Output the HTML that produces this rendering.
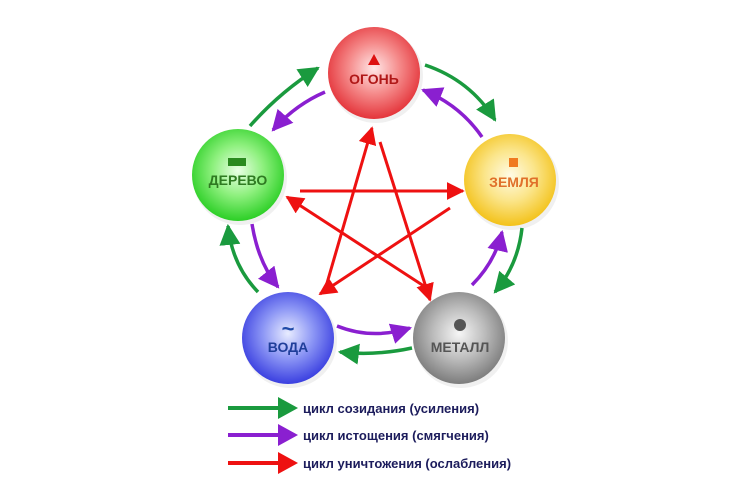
<!DOCTYPE html>
<html><head><meta charset="utf-8"><style>
html,body{margin:0;padding:0;background:#fff;}
svg{display:block;}
text{font-family:"Liberation Sans","DejaVu Sans",sans-serif;font-weight:bold;}
</style></head><body>
<svg width="750" height="500" viewBox="0 0 750 500" xmlns="http://www.w3.org/2000/svg">
<defs>
<radialGradient id="gr" cx="50%" cy="45%" r="55%"><stop offset="0" stop-color="#ffe8e8"/><stop offset="0.5" stop-color="#f58b8b"/><stop offset="1" stop-color="#e4343a"/></radialGradient>
<radialGradient id="gg" cx="50%" cy="45%" r="55%"><stop offset="0" stop-color="#eaffe6"/><stop offset="0.5" stop-color="#8ef07e"/><stop offset="1" stop-color="#2ccf26"/></radialGradient>
<radialGradient id="gy" cx="50%" cy="45%" r="55%"><stop offset="0" stop-color="#fffbe6"/><stop offset="0.5" stop-color="#fbe58a"/><stop offset="1" stop-color="#f3c21a"/></radialGradient>
<radialGradient id="gb" cx="50%" cy="45%" r="55%"><stop offset="0" stop-color="#e8ecff"/><stop offset="0.5" stop-color="#8c96f5"/><stop offset="1" stop-color="#3a3fe0"/></radialGradient>
<radialGradient id="gm" cx="50%" cy="45%" r="55%"><stop offset="0" stop-color="#f6f6f6"/><stop offset="0.5" stop-color="#bdbdbd"/><stop offset="1" stop-color="#7c7c7c"/></radialGradient>
<marker id="ar" viewBox="0 0 10 10" refX="9" refY="5" markerWidth="6" markerHeight="6" orient="auto"><path d="M0,0L10,5L0,10z" fill="#ee1111"/></marker>
<marker id="ag" viewBox="0 0 10 10" refX="9" refY="5" markerWidth="6" markerHeight="6" orient="auto"><path d="M0,0L10,5L0,10z" fill="#1a9a3e"/></marker>
<marker id="ap" viewBox="0 0 10 10" refX="9" refY="5" markerWidth="6" markerHeight="6" orient="auto"><path d="M0,0L10,5L0,10z" fill="#8a1fd0"/></marker>
</defs>
<g fill="#000" opacity="0.06">
<circle cx="376" cy="76" r="47"/><circle cx="240" cy="178" r="47"/><circle cx="512" cy="183" r="47"/><circle cx="290" cy="341" r="47"/><circle cx="461" cy="341" r="47"/>
</g>
<circle cx="374" cy="73" r="46" fill="url(#gr)"/>
<circle cx="238" cy="175" r="46" fill="url(#gg)"/>
<circle cx="510" cy="180" r="46" fill="url(#gy)"/>
<circle cx="288" cy="338" r="46" fill="url(#gb)"/>
<circle cx="459" cy="338" r="46" fill="url(#gm)"/>
<path d="M374,54 L380,65 L368,65z" fill="#dd1111"/>
<text x="374" y="84" font-size="14" fill="#b01818" text-anchor="middle">ОГОНЬ</text>
<rect x="228" y="158" width="18" height="8" fill="#2a8a1f"/>
<text x="238" y="185" font-size="14" fill="#2f7a22" text-anchor="middle">ДЕРЕВО</text>
<rect x="509" y="158" width="9" height="9" fill="#f07a20"/>
<text x="514" y="187" font-size="14" fill="#e0702a" text-anchor="middle">ЗЕМЛЯ</text>
<text x="288" y="336" font-size="22" fill="#1f4aa8" text-anchor="middle">~</text>
<text x="288" y="352" font-size="14" fill="#1f3e9a" text-anchor="middle">ВОДА</text>
<circle cx="460" cy="325" r="6" fill="#555"/>
<text x="460" y="352" font-size="14" fill="#555" text-anchor="middle">МЕТАЛЛ</text>
<g stroke="#ee1111" stroke-width="3" fill="none" marker-end="url(#ar)">
<line x1="300" y1="191" x2="463" y2="191"/>
<line x1="450" y1="208" x2="320" y2="294"/>
<line x1="325" y1="290" x2="372" y2="128"/>
<line x1="380" y1="142" x2="430" y2="300"/>
<line x1="430" y1="290" x2="287" y2="197"/>
</g>
<g stroke="#1a9a3e" stroke-width="3.5" fill="none" marker-end="url(#ag)">
<path d="M250,126 Q280,92 318,68"/>
<path d="M425,65 Q470,80 495,120"/>
<path d="M522,228 Q518,265 495,292"/>
<path d="M412,348 Q375,356 340,352"/>
<path d="M258,292 Q232,265 228,226"/>
</g>
<g stroke="#8a1fd0" stroke-width="3.5" fill="none" marker-end="url(#ap)">
<path d="M325,92 Q295,105 273,130"/>
<path d="M482,137 Q460,105 423,90"/>
<path d="M472,285 Q495,262 502,232"/>
<path d="M337,326 Q372,340 410,328"/>
<path d="M252,224 Q258,262 278,287"/>
</g>
<line x1="228" y1="408" x2="282" y2="408" stroke="#1a9a3e" stroke-width="4"/>
<path d="M278,397 L298,408 L278,419z" fill="#1a9a3e"/>
<text x="303" y="413" font-size="13" fill="#1c1c5c">цикл созидания (усиления)</text>
<line x1="228" y1="435" x2="282" y2="435" stroke="#8a1fd0" stroke-width="4"/>
<path d="M278,424 L298,435 L278,446z" fill="#8a1fd0"/>
<text x="303" y="440" font-size="13" fill="#1c1c5c">цикл истощения (смягчения)</text>
<line x1="228" y1="463" x2="282" y2="463" stroke="#ee1111" stroke-width="4"/>
<path d="M278,452 L298,463 L278,474z" fill="#ee1111"/>
<text x="303" y="468" font-size="13" fill="#1c1c5c">цикл уничтожения (ослабления)</text>
</svg>
</body></html>
